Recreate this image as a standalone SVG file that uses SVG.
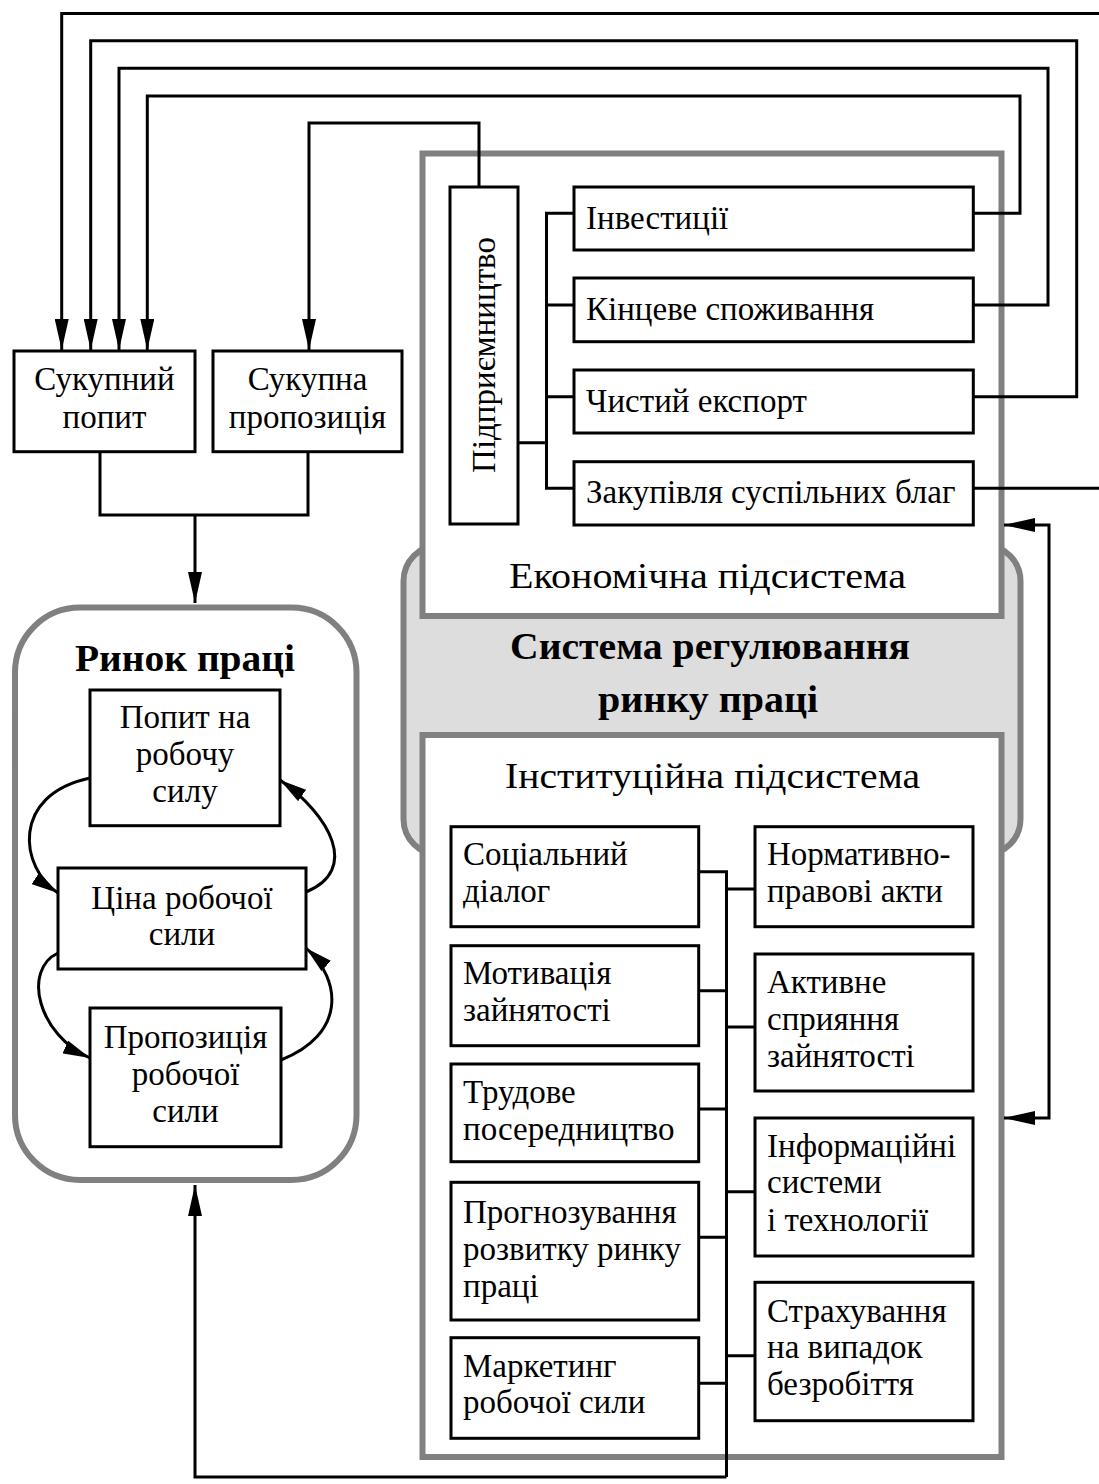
<svg xmlns="http://www.w3.org/2000/svg" width="1099" height="1484" viewBox="0 0 1099 1484">
<style>
text{font-family:"Liberation Serif","Times New Roman",serif;font-size:33px;fill:#000}
.c{text-anchor:middle}
.b{font-weight:bold;font-size:38px}
.s{font-size:35px}
.box{fill:#fff;stroke:#000;stroke-width:3}
.frame{fill:#fff;stroke:#808080;stroke-width:6}
.ln{fill:none;stroke:#000;stroke-width:3}
.arr{marker-end:url(#ah)}
</style>
<defs>
<marker id="ah" markerUnits="userSpaceOnUse" markerWidth="32" markerHeight="14" refX="31" refY="7" orient="auto-start-reverse">
<path d="M0,0 L31,7 L0,14 z" fill="#000"/>
</marker>
<marker id="ahc" markerUnits="userSpaceOnUse" markerWidth="28" markerHeight="14" refX="27" refY="7" orient="auto">
<path d="M0,0 L27,7 L0,14 z" fill="#000"/>
</marker>
</defs>

<g id="regulation-system">
<rect x="403.5" y="545" width="617" height="310" rx="36" fill="#dddddd" stroke="#808080" stroke-width="6"/>
<text class="c b" x="710" y="659" textLength="400" lengthAdjust="spacingAndGlyphs">Система регулювання</text>
<text class="c b" x="708" y="712" textLength="220" lengthAdjust="spacingAndGlyphs">ринку праці</text>
</g>

<g id="economic-subsystem">
<rect class="frame" x="422.5" y="153.5" width="579" height="462.5"/>
<text class="c s" x="707.5" y="588" textLength="397" lengthAdjust="spacingAndGlyphs">Економічна підсистема</text>
</g>

<g id="institutional-subsystem">
<rect class="frame" x="422.5" y="735" width="579" height="722"/>
<text class="c s" x="712.5" y="788" textLength="415" lengthAdjust="spacingAndGlyphs">Інституційна підсистема</text>
</g>

<g id="labour-market">
<rect x="15" y="607.5" width="341.5" height="572.5" rx="65" fill="#fff" stroke="#808080" stroke-width="6"/>
<text class="c b" x="185" y="671" textLength="220" lengthAdjust="spacingAndGlyphs">Ринок праці</text>
</g>

<g id="connectors">
<path class="ln arr" d="M1099,13.5 H61.7 V350"/>
<path class="ln arr" d="M973,396.7 H1076.7 V40.7 H90.7 V350"/>
<path class="ln arr" d="M973,305 H1048 V68.3 H119 V350"/>
<path class="ln arr" d="M973,213.3 H1020 V96 H147.3 V350"/>
<path class="ln arr" d="M479,187 V123 H309 V350"/>
<path class="ln" d="M973,488.3 H1099"/>
<path class="ln" d="M574,213.3 H546.5 V488.3 H574 M546.5,305 H574 M546.5,396.7 H574 M518,442.7 H546.5"/>
<path class="ln" d="M100,451.7 V515 H308 V451.7"/>
<path class="ln arr" d="M195,515 V603"/>
<path class="ln" d="M1004,525 H1049 V1118 H1004" marker-start="url(#ah)" marker-end="url(#ah)"/>
<path class="ln" d="M698.7,871.7 H726.5 V1477"/>
<path class="ln" d="M698.7,990.7 H726.5 M698.7,1109 H726.5 M698.7,1237.3 H726.5 M698.7,1383.3 H726.5"/>
<path class="ln" d="M726.5,889 H755 M726.5,1027 H755 M726.5,1191.7 H755 M726.5,1355.7 H755"/>
<path class="ln arr" d="M726.5,1477 H195 V1185"/>
<path class="ln" d="M90,778 C10,795 20,868 58,893" marker-end="url(#ahc)"/>
<path class="ln" d="M306,892 C360,870 330,815 280,780" marker-end="url(#ahc)"/>
<path class="ln" d="M58,953 C22,970 38,1035 90,1058" marker-end="url(#ahc)"/>
<path class="ln" d="M281,1060 C345,1035 343,981 306,948" marker-end="url(#ahc)"/>
</g>

<g id="aggregate-demand">
<rect class="box" x="14" y="351" width="181" height="100.7"/>
<text class="c" x="104.5" y="390">Сукупний</text>
<text class="c" x="104.5" y="428">попит</text>
</g>
<g id="aggregate-supply">
<rect class="box" x="213" y="351" width="189" height="100.7"/>
<text class="c" x="307.5" y="390">Сукупна</text>
<text class="c" x="307.5" y="428">пропозиція</text>
</g>

<g id="entrepreneurship">
<rect class="box" x="450" y="187" width="68" height="337"/>
<text class="c" transform="translate(495,355) rotate(-90)">Підприємництво</text>
</g>
<g id="investments">
<rect class="box" x="574" y="187" width="399.3" height="63"/>
<text x="586" y="229">Інвестиції</text>
</g>
<g id="final-consumption">
<rect class="box" x="574" y="278" width="399.3" height="63.7"/>
<text x="586" y="320">Кінцеве споживання</text>
</g>
<g id="net-export">
<rect class="box" x="574" y="370" width="399.3" height="63"/>
<text x="586" y="412">Чистий експорт</text>
</g>
<g id="public-goods">
<rect class="box" x="574" y="461.7" width="399.3" height="63.3"/>
<text x="586" y="503">Закупівля суспільних благ</text>
</g>

<g id="labour-demand">
<rect class="box" x="90" y="690" width="190" height="135.7"/>
<text class="c" x="185" y="728">Попит на</text>
<text class="c" x="185" y="765">робочу</text>
<text class="c" x="185" y="802">силу</text>
</g>
<g id="labour-price">
<rect class="box" x="58" y="868" width="248" height="101"/>
<text class="c" x="182" y="909">Ціна робочої</text>
<text class="c" x="182" y="945">сили</text>
</g>
<g id="labour-supply">
<rect class="box" x="90" y="1008" width="191" height="138.7"/>
<text class="c" x="185.5" y="1048">Пропозиція</text>
<text class="c" x="185.5" y="1085">робочої</text>
<text class="c" x="185.5" y="1122">сили</text>
</g>

<g id="social-dialogue">
<rect class="box" x="451" y="826.7" width="247.7" height="100"/>
<text x="463" y="865">Соціальний</text>
<text x="463" y="902">діалог</text>
</g>
<g id="employment-motivation">
<rect class="box" x="451" y="945.7" width="247.7" height="100"/>
<text x="463" y="984">Мотивація</text>
<text x="463" y="1021">зайнятості</text>
</g>
<g id="labour-mediation">
<rect class="box" x="451" y="1064" width="247.7" height="97.7"/>
<text x="463" y="1103">Трудове</text>
<text x="463" y="1140">посередництво</text>
</g>
<g id="forecasting">
<rect class="box" x="451" y="1182.3" width="247.7" height="137.7"/>
<text x="463" y="1223">Прогнозування</text>
<text x="463" y="1260">розвитку ринку</text>
<text x="463" y="1297">праці</text>
</g>
<g id="marketing">
<rect class="box" x="451" y="1337.7" width="247.7" height="100.6"/>
<text x="463" y="1377">Маркетинг</text>
<text x="463" y="1413">робочої сили</text>
</g>

<g id="legal-acts">
<rect class="box" x="755" y="826.7" width="218" height="100"/>
<text x="767" y="865">Нормативно-</text>
<text x="767" y="902">правові акти</text>
</g>
<g id="active-promotion">
<rect class="box" x="755" y="954" width="218" height="137"/>
<text x="767" y="993">Активне</text>
<text x="767" y="1030">сприяння</text>
<text x="767" y="1067">зайнятості</text>
</g>
<g id="information-systems">
<rect class="box" x="755" y="1118" width="218" height="138"/>
<text x="767" y="1157">Інформаційні</text>
<text x="767" y="1193">системи</text>
<text x="767" y="1231">і технології</text>
</g>
<g id="unemployment-insurance">
<rect class="box" x="755" y="1282.3" width="218" height="138.4"/>
<text x="767" y="1322">Страхування</text>
<text x="767" y="1358">на випадок</text>
<text x="767" y="1395">безробіття</text>
</g>
</svg>
